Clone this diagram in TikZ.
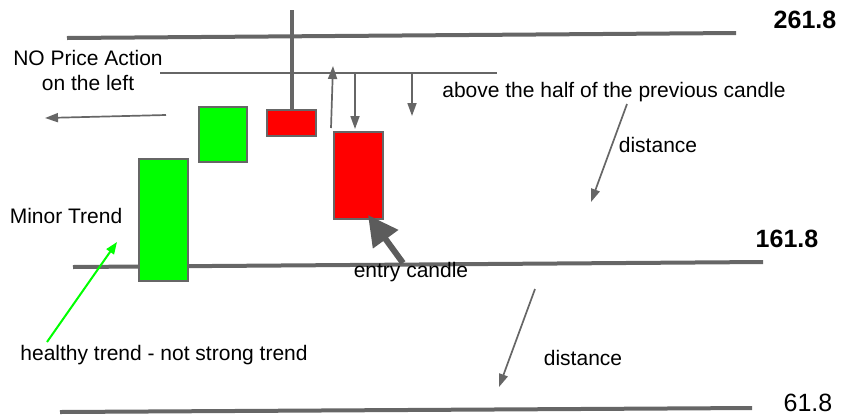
\documentclass[tikz,border=0pt]{standalone}
\usepackage{fontspec}
\setmainfont{Liberation Sans}
\usetikzlibrary{arrows.meta}
\begin{document}
\begin{tikzpicture}[x=1pt,y=-1pt,
  thin/.style={draw={rgb,255:red,102;green,102;blue,102}, line width=1.7pt},
  thinarrow/.style={thin, -{Triangle[width=9pt,length=13pt]}},
  candle/.style={draw={rgb,255:red,102;green,102;blue,102}, line width=1.6pt, inner sep=0pt, outer sep=0pt, anchor=center},
  lbl/.style={font=\fontsize{21}{25}\selectfont, inner sep=0pt, align=center},
  num/.style={font=\fontsize{25}{28}\selectfont, inner sep=0pt}
]
\definecolor{lg}{RGB}{102,102,102}
\definecolor{cg}{RGB}{0,255,0}
\definecolor{cr}{RGB}{255,0,0}
\useasboundingbox (0,0) rectangle (842,416);

% levels
\coordinate (t1) at (67,38); \coordinate (t2) at (736,33);
\coordinate (m1) at (73,267); \coordinate (m2) at (763,262);
\coordinate (b1) at (60,412); \coordinate (b2) at (752,408);
\draw[lg, line width=4pt] (t1) -- (t2);
\draw[lg, line width=4pt] (m1) -- (m2);
\draw[lg, line width=4pt] (b1) -- (b2);
\node[num, font=\fontsize{25}{28}\selectfont\bfseries] (n261) at (805,20) {261.8};
\node[num, font=\fontsize{25}{28}\selectfont\bfseries] (n161) at (787,239) {161.8};
\node[num] (n61) at (808,403) {61.8};

% candles
\node[candle, fill=cg, minimum width=49pt, minimum height=122pt] (g1) at (163.5,220) {};
\node[candle, fill=cg, minimum width=48pt, minimum height=55pt] (g2) at (223,134.5) {};
\node[candle, fill=cr, minimum width=49pt, minimum height=26pt] (r1) at (291.5,123) {};
\node[candle, fill=cr, minimum width=49pt, minimum height=87pt] (r2) at (358.5,175.5) {};

% wick
\coordinate (wk) at (292,10);
\draw[lg, line width=3.5pt] (wk) -- (r1.north -| wk);

% half line
\coordinate (h1) at (160,73); \coordinate (h2) at (497,73);
\draw[thin] (h1) -- (h2);

% small arrows
\coordinate (la1) at (166,115); \coordinate (la2) at (45,118);
\draw[thinarrow] (la1) -- (la2);
\coordinate (ua1) at (331,128); \coordinate (ua2) at (333,66);
\draw[thinarrow] (ua1) -- (ua2);
\coordinate (da1) at (355,73); \coordinate (da2) at (355,129);
\draw[thinarrow] (da1) -- (da2);
\coordinate (db1) at (412,73); \coordinate (db2) at (412,116);
\draw[thinarrow] (db1) -- (db2);

% texts
\node[lbl] (npa) at (88,70) {NO Price Action\\on the left};
\node[lbl] (half) at (614,92) {above the half of the previous candle};
\node[lbl] (dist1) at (658,145) {distance};
\node[lbl] (dist2) at (583,358) {distance};
\node[lbl] (minor) at (66,216) {Minor Trend};
\node[lbl] (healthy) at (164,355) {healthy trend - not strong trend};
\node[lbl] (entry) at (411,272) {entry candle};

% distance arrows
\coordinate (d1a) at (627,104); \coordinate (d1b) at (591,202);
\draw[thinarrow] (d1a) -- (d1b);
\coordinate (d2a) at (535,289); \coordinate (d2b) at (499,387);
\draw[thinarrow] (d2a) -- (d2b);

% green arrow
\coordinate (ga1) at (47,342); \coordinate (ga2) at (117,242);
\draw[cg, line width=2pt, -{Triangle[width=9pt,length=12pt]}] (ga1) -- (ga2);

% entry arrow
\coordinate (ea1) at (403,263); \coordinate (ea2) at (368,215);
\draw[lg!90!black, line width=6pt, -{Triangle[width=30pt,length=30pt]}] (ea1) -- (ea2);
\end{tikzpicture}
\end{document}
